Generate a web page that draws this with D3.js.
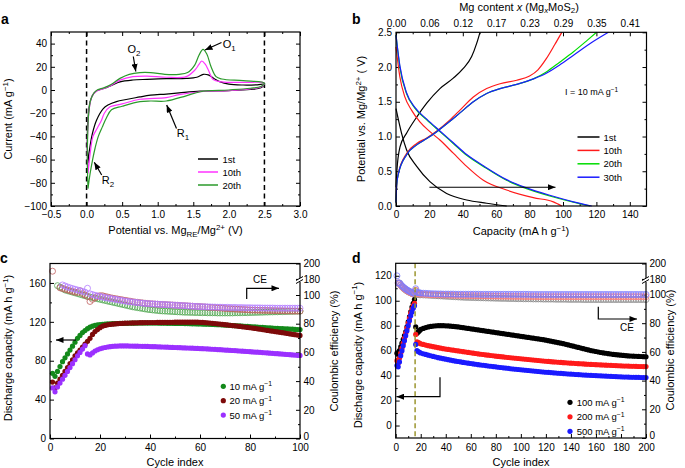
<!DOCTYPE html>
<html><head><meta charset="utf-8">
<script src="https://cdn.jsdelivr.net/npm/d3@7"></script>
<style>body{margin:0;background:#fff}svg{display:block}text{font-family:"Liberation Sans",Arial,sans-serif;fill:#000}</style>
</head><body>
<svg id="fig" width="685" height="468"></svg>
<script>
// ---------- Panel a: CV curves [potential V, current mA/g] ----------
const cvNames = ["1st", "10th", "20th"];
const cv1st = [[0.02,-63],[0.01,-45],[0.02,-25],[0.05,-10],[0.1,-3],[0.15,-0.5],[0.25,1.5],[0.35,4],[0.47,7],[0.65,8.6],[0.85,9.2],[1.12,9.8],[1.4,10],[1.55,11],[1.64,13.5],[1.71,13],[1.8,9.5],[1.87,7.2],[2.0,5],[2.2,4.3],[2.4,4.5],[2.5,5],
  [2.45,2],[2.3,0.5],[2.0,-0.5],[1.6,-1],[1.3,-2.5],[1.12,-3.5],[0.9,-4.5],[0.75,-6],[0.42,-10],[0.3,-13],[0.235,-16],[0.14,-26],[0.08,-38],[0.04,-52],[0.02,-63]];
const cv10th = [[0.02,-72],[0.01,-50],[0.02,-30],[0.04,-15],[0.08,-5],[0.14,-1],[0.2,0.5],[0.33,3.5],[0.47,8.5],[0.65,11.5],[0.85,12],[1.12,11],[1.4,11.5],[1.52,17],[1.58,22],[1.62,25],[1.67,22],[1.71,17.5],[1.78,9],[1.9,7],[2.2,6.5],[2.5,6],
  [2.45,2.5],[2.3,1],[2.0,-0.5],[1.6,-1.5],[1.3,-4],[1.12,-6.5],[0.75,-8],[0.5,-12],[0.33,-14.5],[0.25,-20],[0.21,-26],[0.15,-33],[0.09,-40],[0.05,-55],[0.02,-72]];
const cv20th = [[0.02,-85],[0.01,-60],[0.015,-40],[0.03,-20],[0.06,-8],[0.1,-3],[0.15,0],[0.25,2],[0.35,5],[0.47,10],[0.6,13.5],[0.75,15],[0.9,15],[1.1,13.5],[1.3,13.5],[1.42,15],[1.52,21.5],[1.58,30],[1.637,35],[1.69,31],[1.75,20],[1.82,11.5],[1.9,9.5],[2.2,8],[2.5,6],
  [2.45,3],[2.3,1.5],[2.0,0],[1.6,-1.5],[1.4,-5],[1.12,-9.5],[0.9,-9.5],[0.75,-10],[0.5,-14],[0.35,-17],[0.28,-24],[0.22,-32],[0.165,-40],[0.12,-50],[0.085,-60],[0.05,-72],[0.02,-85]];
const aXTicks = [-0.5,0,0.5,1,1.5,2,2.5,3];
const aYTicks = [-100,-80,-60,-40,-20,0,20,40];

// ---------- Panel b: charge/discharge [capacity mAh/g, potential V] ----------
const gcNames = ["1st", "10th", "20th", "30th"];
const gc1stDis = [[0,1.4],[3.3,1.05],[6.3,0.81],[12.4,0.57],[20.3,0.35],[30.3,0.18],[42.3,0.086],[54.3,0.04],[66.3,0.0]];
const gc1stChg = [[0,0.27],[0.5,0.5],[2.4,0.85],[6.4,1.05],[12.4,1.28],[18.4,1.48],[26.3,1.69],[34.3,1.84],[40.3,1.98],[45.3,2.15],[48.3,2.34],[50.3,2.5]];
const gc10Dis = [[0,2.29],[2.3,1.86],[5.3,1.57],[9.3,1.38],[14.3,1.21],[20.3,1.07],[26.3,0.95],[34.3,0.76],[42.3,0.57],[52.3,0.37],[66.2,0.23],[82.2,0.12],[94.2,0.06],[99.3,0.0]];
const gc10Chg = [[0,0.05],[0.4,0.3],[1.4,0.47],[6.4,0.76],[12.4,0.9],[18.4,0.98],[24.4,1.08],[32.3,1.24],[38.3,1.38],[46.3,1.57],[54.3,1.69],[62.3,1.76],[72.3,1.81],[80,1.87],[85,1.96],[90,2.12],[95,2.32],[99.3,2.5]];
const gc20Dis = [[0,2.46],[2.3,2.0],[6.3,1.62],[11.3,1.41],[18.4,1.24],[26.3,1.07],[34.3,0.9],[42.3,0.73],[52.3,0.57],[66.2,0.37],[78.2,0.25],[94.2,0.13],[106.2,0.055],[116.2,0.0]];
const gc20Chg = [[0,0.05],[0.4,0.3],[1.4,0.46],[6.4,0.74],[12.4,0.88],[18.4,0.97],[24.4,1.07],[32.3,1.22],[38.3,1.34],[46.3,1.5],[54.3,1.62],[62.3,1.69],[72.3,1.75],[82.3,1.83],[90,1.93],[98,2.07],[106.3,2.22],[114.3,2.38],[120.1,2.5]];
const gc30Dis = [[0,2.46],[2.3,2.02],[6.3,1.63],[11.3,1.42],[18.4,1.25],[26.3,1.08],[34.3,0.91],[42.3,0.74],[52.3,0.58],[66.2,0.38],[78.2,0.26],[94.2,0.14],[106.2,0.06],[117.2,0.0]];
const gc30Chg = [[0,0.05],[0.4,0.3],[1.4,0.46],[6.4,0.74],[12.4,0.88],[18.4,0.97],[24.4,1.07],[32.3,1.22],[38.3,1.34],[46.3,1.5],[54.3,1.62],[62.3,1.69],[72.3,1.75],[82.3,1.83],[90,1.91],[98,2.03],[106.3,2.17],[118.3,2.37],[127.2,2.5]];
const bXTicks = [0,20,40,60,80,100,120,140];
const bTopLabels = ["0.00","0.06","0.12","0.17","0.23","0.29","0.35","0.41"];
const bYTicks = [0,0.5,1,1.5,2,2.5];

// ---------- Panel c: cycling at low rates (cycles 1..100) ----------
const cNames = ["10 mA g", "20 mA g", "50 mA g"];
const cCap10 = [67,64,69,74,79,83,87,91,95,99,103,106,109,111,113,114.5,115.5,116.3,116.8,117.2,117.5,117.7,117.9,118,118.1,118.2,118.3,118.4,118.4,118.5,118.5,118.6,118.6,118.6,118.7,118.7,118.7,118.7,118.7,118.7,118.7,118.7,118.7,118.6,118.6,118.6,118.5,118.5,118.5,118.4,118.4,118.3,118.3,118.2,118.2,118.1,118,118,117.9,117.8,117.7,117.6,117.5,117.4,117.3,117.2,117.1,117,116.8,116.7,116.5,116.4,116.2,116.1,115.9,115.8,115.6,115.4,115.3,115.1,114.9,114.8,114.6,114.4,114.3,114.1,113.9,113.8,113.6,113.4,113.3,113.1,113,112.8,112.7,112.5,112.4,112.2,112.1,112];
const cCap20 = [58,52,57,61,65,69,73,77,81,85,88,91,94,97,100,103,107,110,112,114,115.5,116.3,116.9,117.3,117.6,117.9,118.1,118.3,118.5,118.6,118.7,118.8,118.9,119,119,119.1,119.1,119.2,119.2,119.3,119.3,119.3,119.4,119.4,119.4,119.5,119.5,119.5,119.5,119.6,119.6,119.6,119.6,119.6,119.7,119.7,119.7,119.7,119.6,119.5,119.4,119.2,119,118.8,118.5,118.3,118,117.7,117.4,117.1,116.8,116.5,116.2,115.9,115.6,115.3,114.9,114.6,114.3,113.9,113.6,113.2,112.8,112.4,112,111.6,111.2,110.8,110.4,110,109.6,109.2,108.8,108.4,108,107.6,107.2,106.8,106.4,106];
const cCap50 = [52,48,53,57,61,65,69,73,77,81,85,88.5,92,95.5,87,86,88,90,91.3,92.3,93,93.6,94.1,94.5,94.8,95,95.1,95.2,95.2,95.2,95.2,95.1,95.1,95,95,94.9,94.8,94.8,94.7,94.6,94.5,94.4,94.3,94.2,94.1,94,93.9,93.8,93.7,93.6,93.5,93.4,93.3,93.2,93.1,93,92.9,92.8,92.7,92.5,92.4,92.3,92.1,92,91.8,91.7,91.5,91.4,91.2,91,90.9,90.7,90.5,90.4,90.2,90,89.8,89.7,89.5,89.3,89.1,88.9,88.8,88.6,88.4,88.2,88,87.8,87.6,87.4,87.2,87,86.8,86.6,86.4,86.2,86,85.8,85.6,85.4];
const cCE10 = [null,null,106.5,105.5,104.5,103.5,103,102.5,102,101.5,101,100.5,100,99.5,99,98.6,98.2,97.8,97.4,97,96.6,96.2,95.8,95.4,95,94.6,94.2,93.8,93.4,93,92.6,92.2,91.8,91.5,91.2,90.9,90.6,90.3,90,89.8,89.6,89.4,89.2,89,88.9,88.8,88.7,88.6,88.5,88.4,88.3,88.2,88.1,88,88,87.9,87.9,87.8,87.8,87.7,87.7,87.7,87.6,87.6,87.6,87.6,87.5,87.5,87.5,87.5,87.5,87.5,87.5,87.6,87.6,87.6,87.7,87.7,87.7,87.8,87.8,87.9,87.9,88,88,88.1,88.1,88.2,88.2,88.3,88.3,88.4,88.4,88.5,88.5,88.6,88.6,88.7,88.7,88.8];
const cCE20 = [190,null,null,105,104.5,104,103.5,103,102.5,102,101.8,103,101,100,99,95.5,97,98,99,99.5,99.5,99,98.6,98.2,97.8,97.5,97.2,96.9,96.6,96.3,96,95.7,95.4,95.1,94.9,94.7,94.5,94.3,94.1,93.9,93.8,93.7,93.6,93.5,93.4,93.3,93.2,93.1,93,92.9,92.8,92.7,92.6,92.5,92.4,92.3,92.2,92.1,92,91.9,91.8,91.7,91.5,91.4,91.3,91.2,91,90.9,90.8,90.6,90.5,90.4,90.3,90.2,90.1,90,89.9,89.8,89.7,89.6,89.5,89.5,89.4,89.4,89.3,89.3,89.2,89.2,89.1,89.1,89,89,89,88.9,88.9,88.9,88.8,88.8,88.8,88.8];
const cCE50 = [null,null,null,null,107,106.3,105.6,105,104.5,104,103.5,103,102.5,102,104.7,100.8,100.3,99.8,99.4,99,98.6,98.2,97.9,97.6,97.3,97,96.7,96.4,96.1,95.8,95.5,95.3,95.1,94.9,94.7,94.5,94.3,94.1,94,93.9,93.8,93.7,93.6,93.5,93.4,93.3,93.2,93.1,93,92.9,92.8,92.7,92.6,92.5,92.4,92.3,92.2,92.1,92,91.9,91.8,91.8,91.7,91.7,91.6,91.6,91.5,91.5,91.4,91.4,91.4,91.3,91.3,91.3,91.2,91.2,91.2,91.1,91.1,91.1,91,91,91,91,90.9,90.9,90.9,90.9,90.9,90.8,90.8,90.8,90.8,90.8,90.8,90.8,90.8,90.8,90.8,90.8];

// ---------- Panel d: cycling at high rates ----------
const dNames = ["100 mA g", "200 mA g", "500 mA g"];
const dCycles = [...d3.range(1, 21), ...d3.range(22, 201, 2)];
const dCap100 = [58,57,60,63,66,69,72,75,79,83,87,91,95,98,101,79,74,75,76,77,
  77.8,78.5,79,79.4,79.7,79.9,80,80,80,79.9,79.8,79.6,79.4,79.2,79,78.7,78.4,78.1,77.8,77.5,
  77.2,76.9,76.6,76.3,76,75.7,75.4,75.1,74.8,74.5,74.2,73.9,73.6,73.3,73,72.7,72.4,72.1,71.8,71.5,
  71.2,70.9,70.6,70.3,70,69.7,69.4,69.1,68.8,68.4,68,67.6,67.2,66.8,66.4,66,65.6,65.1,64.6,64.1,
  63.6,63.1,62.6,62.1,61.6,61.1,60.6,60.1,59.7,59.3,58.9,58.5,58.2,57.9,57.6,57.3,57,56.8,56.6,56.4,
  56.2,56,55.8,55.7,55.6,55.5,55.4,55.3,55.2,55.1];
const dCap200 = [52,50,54,58,62,66,70,74,78,82,86,90,93,96,98,73,67,66.5,66,65.5,
  65,64.5,64,63.6,63.2,62.8,62.4,62,61.6,61.3,61,60.7,60.4,60.1,59.8,59.5,59.2,58.9,58.6,58.3,
  58,57.7,57.4,57.1,56.9,56.6,56.4,56.1,55.9,55.6,55.4,55.2,55,54.7,54.5,54.3,54.1,53.9,53.7,53.5,
  53.3,53.1,52.9,52.7,52.5,52.3,52.1,51.9,51.7,51.5,51.4,51.2,51,50.9,50.7,50.6,50.4,50.3,50.1,50,
  49.9,49.7,49.6,49.5,49.4,49.2,49.1,49,48.9,48.8,48.7,48.6,48.5,48.4,48.3,48.2,48.1,48,47.9,47.8,
  47.7,47.7,47.6,47.5,47.5,47.4,47.3,47.3,47.2,47.2];
const dCap500 = [48,47,51,56,60,64,68,72,76,80,84,88,91,94,96,65,60,59.3,58.7,58.1,
  57.5,57,56.4,55.9,55.4,54.9,54.4,54,53.6,53.2,52.8,52.4,52,51.6,51.3,51,50.6,50.3,50,49.7,
  49.4,49.1,48.8,48.5,48.3,48,47.7,47.5,47.2,47,46.7,46.5,46.2,46,45.8,45.5,45.3,45.1,44.9,44.7,
  44.5,44.3,44.1,43.9,43.7,43.5,43.3,43.1,42.9,42.7,42.6,42.4,42.2,42.1,41.9,41.8,41.6,41.5,41.3,41.2,
  41.1,40.9,40.8,40.7,40.5,40.4,40.3,40.2,40.1,40,39.9,39.8,39.7,39.6,39.5,39.4,39.3,39.2,39.1,39,
  38.9,38.9,38.8,38.7,38.7,38.6,38.6,38.5,38.5,38.4];
const dCE100 = [null,null,108,106.5,105.5,104.6,103.8,103.1,102.5,102,101.5,101.1,100.7,100.3,100,102.5,100.2,100,99.9,99.8,
  99.7,99.6,99.5,99.4,99.3,99.2,99.1,99,98.9,98.8,98.7,98.6,98.5,98.4,98.3,98.2,98.1,98,98,97.9,
  97.9,97.8,97.8,97.7,97.7,97.6,97.6,97.5,97.5,97.4,97.4,97.3,97.3,97.3,97.2,97.2,97.2,97.1,97.1,97.1,
  97,97,97,97,96.9,96.9,96.9,96.9,96.8,96.8,96.8,96.8,96.8,96.7,96.7,96.7,96.7,96.7,96.6,96.6,
  96.6,96.6,96.6,96.6,96.5,96.5,96.5,96.5,96.5,96.5,96.5,96.5,96.5,96.5,96.5,96.5,96.5,96.5,96.5,96.5,
  96.5,96.5,96.5,96.5,96.5,96.5,96.5,96.5,96.5,96.5];
const dCE200 = [null,109,107.5,106.5,105.5,104.7,104,103.3,102.7,102.2,101.7,101.3,100.9,100.5,100.2,103,100.8,100.6,100.4,100.3,
  100.2,100.1,100,99.9,99.9,99.8,99.8,99.7,99.7,99.6,99.6,99.5,99.5,99.4,99.4,99.3,99.3,99.3,99.2,99.2,
  99.2,99.1,99.1,99.1,99,99,99,98.9,98.9,98.9,98.9,98.8,98.8,98.8,98.8,98.7,98.7,98.7,98.7,98.7,
  98.6,98.6,98.6,98.6,98.6,98.6,98.5,98.5,98.5,98.5,98.5,98.5,98.5,98.5,98.5,98.5,98.5,98.5,98.5,98.5,
  98.5,98.5,98.5,98.5,98.5,98.5,98.5,98.5,98.5,98.5,98.5,98.5,98.5,98.5,98.5,98.5,98.5,98.5,98.5,98.5,
  98.5,98.5,98.5,98.5,98.5,98.5,98.5,98.5,98.5,98.5];
const dCE500 = [184,110,108,107,106,105.2,104.5,103.8,103.2,102.7,102.2,101.8,101.4,101,100.7,104,101.5,101.3,101.1,101,
  100.9,100.8,100.7,100.6,100.5,100.5,100.4,100.4,100.3,100.3,100.3,100.3,100.3,100.2,100.2,100.2,100.2,100.2,100.2,100.2,
  100.2,100.2,100.2,100.1,100.1,100.1,100.1,100.1,100.1,100.1,100.1,100.1,100.1,100.1,100.1,100.1,100.1,100.1,100.1,100.1,
  100.1,100.1,100.1,100,100,100,100,100,100,100,100,100,100,100,100,100,100,100,100,100,
  100,100,100,100,100,100,100,100,100,100,100,100,100,100,100,100,100,100,100,100,
  100,100,100,100,100,100,100,100,100,100];
const cdRightTicks = [0,20,40,60,80,100,180,200];

// ================= drawing =================
const svg = d3.select("#fig");
const FS = 10;
const defs = svg.append("defs");
defs.append("marker").attr("id","ah").attr("viewBox","0 0 10 8").attr("refX",10).attr("refY",4)
  .attr("markerWidth",8).attr("markerHeight",6).attr("markerUnits","userSpaceOnUse").attr("orient","auto")
  .append("path").attr("d","M0,0L10,4L0,8Z").attr("fill","#000");

function rich(sel, parts, fs) {
  let shift = 0;
  parts.forEach(p => {
    const t = typeof p === "string" ? {t:p} : p;
    const target = t.sup ? -fs*0.38 : t.sub ? fs*0.25 : 0;
    const ts = sel.append("tspan").text(t.t).attr("dy", target - shift);
    if (t.sup || t.sub) ts.attr("font-size", fs*0.72);
    if (t.it) ts.attr("font-style","italic");
    shift = target;
  });
  return sel;
}
function txt(x, y, parts, fs, anchor="start", rot=0, weight="normal") {
  const t = svg.append("text").attr("font-size", fs).attr("text-anchor", anchor).attr("font-weight", weight)
    .attr("transform", `translate(${x},${y})` + (rot ? ` rotate(${rot})` : ""));
  return rich(t, parts, fs);
}
function axis(orient, scale, major, minor, tr, fmt, pad) {
  const mk = {bottom:d3.axisBottom, top:d3.axisTop, left:d3.axisLeft, right:d3.axisRight}[orient];
  const g = svg.append("g").attr("transform", tr);
  g.call(mk(scale).tickValues(major).tickSize(-4).tickPadding(pad).tickFormat(fmt || ""));
  if (minor) svg.append("g").attr("transform", tr).call(mk(scale).tickValues(minor).tickSize(-2).tickFormat("")).select(".domain").remove();
  g.select(".domain").remove();
  g.selectAll("text").attr("font-size", FS).attr("font-family", '"Liberation Sans",Arial,sans-serif');
  svg.selectAll(".tick line").attr("stroke","#000").attr("stroke-width",1);
  return g;
}
function frame(x0, y0, x1, y1) {
  svg.append("rect").attr("x",x0).attr("y",y0).attr("width",x1-x0).attr("height",y1-y0)
    .attr("fill","none").attr("stroke","#000").attr("stroke-width",1.2);
}
function arrow(points) {
  svg.append("path").attr("d", d3.line()(points)).attr("fill","none").attr("stroke","#000")
    .attr("stroke-width",1.2).attr("marker-end","url(#ah)");
}

// ---------- Panel a ----------
{
  const X0=51, X1=300, Y0=32, Y1=206;
  const x = d3.scaleLinear().domain([-0.5,3]).range([X0,X1]);
  const y = d3.scaleLinear().domain([-100,50]).range([Y1,Y0]);
  const f1 = d3.format(".1f");
  axis("bottom", x, aXTicks, d3.range(-0.25,3,0.5), `translate(0,${Y1})`, f1, 5);
  axis("top", x, aXTicks, d3.range(-0.25,3,0.5), `translate(0,${Y0})`, null, 3);
  axis("left", y, aYTicks, d3.range(-90,50,20), `translate(${X0},0)`, d3.format("d"), 4);
  axis("right", y, aYTicks, d3.range(-90,50,20), `translate(${X1},0)`, null, 3);
  [0, 2.5].forEach(v => svg.append("line").attr("x1",x(v)).attr("x2",x(v)).attr("y1",Y0).attr("y2",Y1)
    .attr("stroke","#000").attr("stroke-width",1.5).attr("stroke-dasharray","5,3.5"));
  const line = d3.line().x(d=>x(d[0])).y(d=>y(d[1])).curve(d3.curveCatmullRom.alpha(0.5));
  const cols = ["#000000","#ff33ff","#2b9a2b"];
  [cv1st, cv10th, cv20th].forEach((s,i) => svg.append("path").attr("d", line(s)).attr("fill","none")
    .attr("stroke", cols[i]).attr("stroke-width",1.2));
  frame(X0,Y0,X1,Y1);
  cvNames.forEach((n,i) => {
    const yy = 159 + i*13;
    svg.append("line").attr("x1",198).attr("x2",218).attr("y1",yy).attr("y2",yy).attr("stroke",cols[i]).attr("stroke-width",1.5);
    txt(222.5, yy+3.5, [n], 9.5);
  });
  arrow([[133.3,56.5],[135.8,71.5]]);
  arrow([[221.5,42.5],[205,50]]);
  arrow([[176.5,128.5],[166.7,105]]);
  arrow([[101.7,175],[94.3,162.3]]);
  txt(127.5, 53, ["O",{t:"2",sub:true}], 11);
  txt(222.7, 48, ["O",{t:"1",sub:true}], 11);
  txt(176.7, 137, ["R",{t:"1",sub:true}], 11);
  txt(101.7, 184, ["R",{t:"2",sub:true}], 11);
  txt(175.5, 234, ["Potential vs. Mg",{t:"RE",sub:true},"/Mg",{t:"2+",sup:true}," (V)"], 11, "middle");
  txt(12, 119, ["Current (mA g",{t:"−1",sup:true},")"], 11, "middle", -90);
  txt(1, 24, ["a"], 14, "start", 0, "bold");
}

// ---------- Panel b ----------
{
  const X0=396, X1=646.5, Y0=32.3, Y1=206;
  const x = d3.scaleLinear().domain([0,150]).range([X0,X1]);
  const y = d3.scaleLinear().domain([0,2.5]).range([Y1,Y0]);
  axis("bottom", x, bXTicks, d3.range(10,150,20), `translate(0,${Y1})`, d3.format("d"), 5);
  axis("top", x, bXTicks, d3.range(10,150,20), `translate(0,${Y0})`, (d,i)=>bTopLabels[i], 5.5);
  axis("left", y, bYTicks, d3.range(0.25,2.5,0.5), `translate(${X0},0)`, d3.format(".1f"), 4);
  axis("right", y, bYTicks, d3.range(0.25,2.5,0.5), `translate(${X1},0)`, null, 3);
  const line = d3.line().x(d=>x(d[0])).y(d=>y(d[1])).curve(d3.curveMonotoneX);
  const cols = ["#000000","#ff1a1a","#00dd00","#1a1aff"];
  [[gc1stDis,gc1stChg],[gc10Dis,gc10Chg],[gc20Dis,gc20Chg],[gc30Dis,gc30Chg]].forEach((pair,i) =>
    pair.forEach(s => svg.append("path").attr("d", line(s)).attr("fill","none").attr("stroke", cols[i]).attr("stroke-width",1.2)));
  frame(X0,Y0,X1,Y1);
  arrow([[x(20),y(0.27)],[x(95.5),y(0.27)]]);
  gcNames.forEach((n,i) => {
    const yy = 137 + i*13.4;
    svg.append("line").attr("x1",577.5).attr("x2",599.5).attr("y1",yy).attr("y2",yy).attr("stroke",cols[i]).attr("stroke-width",1.5);
    txt(603.5, yy+3.5, [n], 9.5);
  });
  txt(565, 95, ["I = 10 mA g",{t:"−1",sup:true}], 9);
  txt(521, 235, ["Capacity (mA h g",{t:"−1",sup:true},")"], 11, "middle");
  txt(519, 10.5, ["Mg content ",{t:"x",it:true}," (Mg",{t:"x",sub:true,it:true},"MoS",{t:"2",sub:true},")"], 11, "middle");
  txt(365, 119, ["Potential vs. Mg/Mg",{t:"2+",sup:true}," ( V)"], 11, "middle", -90);
  txt(352, 24, ["b"], 14, "start", 0, "bold");
}

function rightScale(bot) {
  return d3.scaleLinear().domain([0,108,176,200]).range([bot, bot-108*1.435, 282, 263.5]);
}
function breakMark(xr, yb) {
  svg.append("rect").attr("x",xr-2).attr("y",yb-2).attr("width",4).attr("height",4).attr("fill","#fff");
  [0,3].forEach(o => svg.append("line").attr("x1",xr-4).attr("x2",xr+3).attr("y1",yb+2+o-1.5).attr("y2",yb-2+o-1.5)
    .attr("stroke","#000").attr("stroke-width",1));
}
function scatter(x, y, xs, vals, col, open, r) {
  const pts = xs.map((c,i)=>[c, vals[i]]).filter(d => d[1] != null);
  svg.append("g").selectAll("circle").data(pts).join("circle")
    .attr("cx", d=>x(d[0])).attr("cy", d=>y(d[1])).attr("r", r)
    .attr("fill", open ? "none" : col).attr("stroke", open ? col : "none").attr("stroke-width", 0.8);
}
function liftZero(g) {
  g.selectAll(".tick text").filter(d => d === 0).attr("dy", "0.05em");
}

// ---------- Panel c ----------
{
  const X0=50, X1=300, Y0=263.5, Y1=438.5;
  const x = d3.scaleLinear().domain([0,100]).range([X0,X1]);
  const y = d3.scaleLinear().domain([0,180]).range([Y1,Y0]);
  const yr = rightScale(Y1);
  axis("bottom", x, [0,20,40,60,80,100], d3.range(10,100,20), `translate(0,${Y1})`, d3.format("d"), 5.5);
  axis("left", y, [0,40,80,120,160], d3.range(20,180,40), `translate(${X0},0)`, d3.format("d"), 4);
  liftZero(axis("right", yr, cdRightTicks, [10,30,50,70,90], `translate(${X1},0)`, d3.format("d"), 3.5));
  const cycles = d3.range(1,101);
  const ceCols = ["#55aa55","#c06060","#b27cff"];
  const capCols = ["#13891a","#7d0a0a","#9b30ff"];
  [cCE10, cCE20, cCE50].forEach((s,i) => scatter(x, yr, cycles, s, ceCols[i], true, 3));
  [cCap10, cCap20, cCap50].forEach((s,i) => scatter(x, y, cycles, s, capCols[i], false, 2.6));
  frame(X0,Y0,X1,Y1);
  breakMark(X1, 280);
  arrow([[246.7,299],[246.7,288.3],[279,288.3]]);
  txt(253, 283, ["CE"], 10);
  arrow([[76,340],[56,340]]);
  cNames.forEach((n,i) => {
    const yy = 386.3 + i*14.4;
    svg.append("circle").attr("cx",223.3).attr("cy",yy).attr("r",2.6).attr("fill",capCols[i]);
    txt(229.5, yy+3.5, [n,{t:"−1",sup:true}], 9.5);
  });
  txt(175, 466, ["Cycle index"], 11, "middle");
  txt(12, 348, ["Discharge capacity (mA h g",{t:"−1",sup:true},")"], 11, "middle", -90);
  txt(337.5, 351, ["Coulombic efficiency (%)"], 11, "middle", -90);
  txt(0, 263, ["c"], 14, "start", 0, "bold");
}

// ---------- Panel d ----------
{
  const X0=395.7, X1=646, Y0=263.3, Y1=438;
  const x = d3.scaleLinear().domain([0,200]).range([X0,X1]);
  const y = d3.scaleLinear().domain([-10,130]).range([Y1,Y0]);
  const yr = rightScale(Y1);
  axis("bottom", x, d3.range(0,201,20), d3.range(10,200,20), `translate(0,${Y1})`, d3.format("d"), 5.5);
  axis("left", y, [0,20,40,60,80,100,120], d3.range(10,130,20), `translate(${X0},0)`, d3.format("d"), 4);
  liftZero(axis("right", yr, cdRightTicks, [10,30,50,70,90], `translate(${X1},0)`, d3.format("d"), 3.5));
  const ceCols = ["#8a8a8a","#ff7b7b","#7b7bff"];
  const capCols = ["#000000","#ff1a1a","#1a1aff"];
  [dCE100, dCE200, dCE500].forEach((s,i) => scatter(x, yr, dCycles, s, ceCols[i], true, 3));
  [dCap100, dCap200, dCap500].forEach((s,i) => scatter(x, y, dCycles, s, capCols[i], false, 2.6));
  svg.append("line").attr("x1",x(15.5)).attr("x2",x(15.5)).attr("y1",Y0).attr("y2",Y1)
    .attr("stroke","#9c9630").attr("stroke-width",1.5).attr("stroke-dasharray","5,3");
  frame(X0,Y0,X1,Y1);
  breakMark(X1, 280);
  arrow([[598.3,306.7],[598.3,319],[637,319]]);
  txt(620, 331, ["CE"], 10);
  arrow([[440,377.3],[440,396.7],[396.5,396.7]]);
  dNames.forEach((n,i) => {
    const yy = 402.3 + i*14.5;
    svg.append("circle").attr("cx",570).attr("cy",yy).attr("r",2.6).attr("fill",capCols[i]);
    txt(576.7, yy+3.5, [n,{t:"−1",sup:true}], 9.5);
  });
  txt(521, 466, ["Cycle index"], 11, "middle");
  txt(361.5, 355, ["Discharge capacity (mA h g",{t:"−1",sup:true},")"], 11, "middle", -90);
  txt(673.5, 350, ["Coulombic efficiency (%)"], 11, "middle", -90);
  txt(352, 263, ["d"], 14, "start", 0, "bold");
}
</script>
</body></html>
